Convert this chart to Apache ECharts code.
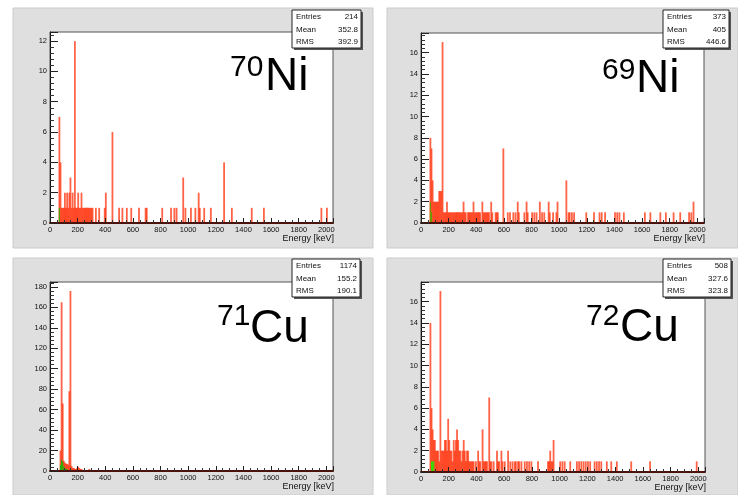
<!DOCTYPE html>
<html><head><meta charset="utf-8">
<script src="https://cdn.jsdelivr.net/npm/echarts@6/dist/echarts.min.js"></script>
<style>html,body{margin:0;padding:0;background:#fff}#c{width:738px;height:495px}</style>
</head><body><div id="c"></div>
<script>
// ---------- data ----------
const BIN_KEV = 8;                       // histogram bin width (keV)
const xTickLabels = [0,200,400,600,800,1000,1200,1400,1600,1800,2000];
const statNames = ['Entries','Mean','RMS'];

// 70Ni
const ni70E = [64,72,80,88,96,104,112,120,128,136,144,152,160,168,176,184,192,200,208,216,224,232,240,248,256,264,272,280,288,296,304,328,352,392,400,448,496,520,552,584,640,688,696,808,872,896,912,960,976,1016,1048,1072,1080,1112,1160,1256,1312,1456,1544,1960,2000];
const ni70N = [7,4,1,1,1,2,1,2,1,2,3,1,2,1,12,1,1,2,1,1,2,1,1,1,1,1,1,1,1,1,1,1,1,1,2,6,1,1,1,1,1,1,1,1,1,1,1,3,1,1,1,2,1,1,1,4,1,1,1,1,1];
const ni70GE = [64];
const ni70GN = [1];
const ni70YTicks = [0,2,4,6,8,10,12];
const ni70Stats = ['214','352.8','392.9'];

// 69Ni
const ni69E = [64,72,80,88,96,104,112,120,128,136,144,152,160,168,176,184,192,200,208,216,224,232,240,248,256,264,272,280,288,296,304,312,320,336,344,352,360,368,376,384,392,400,408,416,424,440,448,456,464,472,480,488,504,512,536,544,552,592,624,640,664,680,696,704,744,760,768,800,816,832,856,872,888,920,928,952,976,984,1048,1064,1072,1088,1104,1192,1248,1288,1304,1328,1400,1416,1432,1464,1616,1656,1728,1768,1824,1872,1936,1952,1968];
const ni69N = [8,7,4,2,2,2,2,2,3,3,3,17,1,1,1,2,1,1,1,1,1,1,1,1,1,1,1,1,1,1,2,1,1,1,1,1,1,1,2,1,1,1,1,1,1,2,1,1,1,1,1,1,2,1,1,1,1,7,1,1,1,1,2,1,1,2,1,1,1,1,2,1,1,2,1,1,1,2,4,1,1,1,1,1,1,1,1,1,1,1,1,1,1,1,1,1,1,1,1,1,2];
const ni69GE = [64,72];
const ni69GN = [2,1];
const ni69YTicks = [0,2,4,6,8,10,12,14,16];
const ni69Stats = ['373','405','446.6'];

// 71Cu
const cu71E = [72,80,88,96,104,112,120,128,136,144,152,160,168,176,184,192,200,208,216,224,232,248,264,280,296,320,344,368,392,416,440,472,504,536,568,600,640,688,720,760,800,848,904,960,1000,1056,1104,1160,1208,1264,1320,1376,1432,1488,1544,1600,1656,1712,1768,1824,1880,1936,1992];
const cu71N = [20,165,66,10,8,7,7,6,78,176,5,3,3,2,2,3,4,3,2,2,1,1,1,2,1,1,1,1,1,1,1,1,1,1,1,1,1,1,1,1,1,1,1,1,1,1,1,1,1,1,1,1,1,1,1,1,1,1,1,1,1,1,1];
const cu71GE = [72,80,88,96,104,112,120,128];
const cu71GN = [6,11,9,5,3,2,2,1];
const cu71YTicks = [0,20,40,60,80,100,120,140,160,180];
const cu71Stats = ['1174','155.2','190.1'];

// 72Cu
const cu72E = [64,72,80,88,96,104,112,120,128,136,144,152,160,168,176,184,192,200,208,216,224,232,240,248,256,264,272,280,288,296,304,312,320,328,336,344,352,360,368,376,392,408,416,424,440,448,456,464,472,488,496,504,520,544,552,560,576,584,600,624,640,656,672,680,696,704,720,744,760,776,792,840,912,920,928,936,944,952,1000,1016,1032,1072,1120,1136,1152,1168,1184,1200,1216,1248,1264,1280,1296,1336,1368,1408,1512,1648,1984];
const cu72N = [14,6,4,3,3,2,2,2,1,17,2,2,2,3,3,2,5,3,2,2,1,3,2,3,4,3,2,2,1,2,3,2,1,2,2,1,1,1,1,1,1,2,1,1,4,1,1,1,1,7,1,1,1,2,1,1,2,1,1,2,1,1,1,1,1,1,1,1,1,1,1,1,1,1,2,1,1,3,1,1,1,1,1,1,1,1,1,1,1,1,1,1,1,1,1,1,1,1,1];
const cu72GE = [72,80,88];
const cu72GN = [1,1,1];
const cu72YTicks = [0,2,4,6,8,10,12,14,16];
const cu72Stats = ['508','327.6','323.8'];

// ---------- layout ----------
const panels = [
  {mass:'70', el:'Ni', E:ni70E, N:ni70N, GE:ni70GE, GN:ni70GN, yTicks:ni70YTicks, stats:ni70Stats,
   grid:{left:50, top:32, width:283, height:191}, canvas:[13,8,360,240], box:[292,10,69,38],
   sup:[230,67.5], big:[265,77], green:'#3aa800'},
  {mass:'69', el:'Ni', E:ni69E, N:ni69N, GE:ni69GE, GN:ni69GN, yTicks:ni69YTicks, stats:ni69Stats,
   grid:{left:421, top:33, width:283, height:190}, canvas:[387,8,351,240], box:[663,10,66,38],
   sup:[602,70.5], big:[636,79.5], green:'#6a9a00'},
  {mass:'71', el:'Cu', E:cu71E, N:cu71N, GE:cu71GE, GN:cu71GN, yTicks:cu71YTicks, stats:cu71Stats,
   grid:{left:50, top:282, width:283, height:189}, canvas:[13,258,360,237], box:[292,259,68,38],
   sup:[217,317], big:[250,329], green:'#22b000'},
  {mass:'72', el:'Cu', E:cu72E, N:cu72N, GE:cu72GE, GN:cu72GN, yTicks:cu72YTicks, stats:cu72Stats,
   grid:{left:421, top:282, width:284, height:190}, canvas:[387,258,351,237], box:[663,259,68,38],
   sup:[586,317], big:[620,328.7], green:'#2ee000'}
];

const FONT = '"Liberation Sans", Arial, Helvetica, sans-serif';
const RED = 'rgba(255,40,0,0.72)';
const BAR_BLEED = 0.7;   // px added to each bin so the thin bins look like the blurred original

function histRenderer(color, bleed) {
  return function (params, api) {
    const e = api.value(0), n = api.value(1);
    const a = api.coord([e, 0]);
    const b = api.coord([e + BIN_KEV, n]);
    return {type:'rect', shape:{x:a[0] - bleed / 2, y:b[1], width:b[0]-a[0] + bleed, height:a[1]-b[1]},
            style:{fill: color}};
  };
}
function tickFormatter(list) {
  return function (v) {
    for (const t of list) if (Math.abs(t - v) < 1e-6) return String(t);
    return '';
  };
}

const grids = [], xAxes = [], yAxes = [], series = [], graphics = [];
panels.forEach((p, i) => {
  const yMax = Math.round(Math.max(...p.N) * 1.05 * 1000) / 1000;
  const yStep = p.yTicks[1] - p.yTicks[0];
  grids.push(Object.assign({show:true, backgroundColor:'#ffffff', borderColor:'#555', borderWidth:1, z:1, containLabel:false}, p.grid));
  xAxes.push({type:'value', gridIndex:i, min:0, max:2048, interval:200, z:5,
    axisLine:{show:true, onZero:false, lineStyle:{color:'#4a120a', width:2}},
    axisTick:{show:true, inside:true, length:5, lineStyle:{color:'#222'}},
    minorTick:{show:true, splitNumber:4, length:3, lineStyle:{color:'#333'}},
    splitLine:{show:false}, minorSplitLine:{show:false},
    axisLabel:{show:true, fontSize:7.5, fontFamily:FONT, color:'#111', margin:3, hideOverlap:false,
      formatter: tickFormatter(xTickLabels)}
  });
  yAxes.push({type:'value', gridIndex:i, min:0, max:yMax, interval:yStep, z:5,
    axisLine:{show:true, onZero:false, lineStyle:{color:'#111', width:1}},
    axisTick:{show:true, inside:true, length:8, lineStyle:{color:'#222'}},
    minorTick:{show:true, splitNumber:5, length:4, lineStyle:{color:'#333'}},
    splitLine:{show:false}, minorSplitLine:{show:false},
    axisLabel:{show:true, fontSize:7.5, fontFamily:FONT, color:'#111', margin:3, hideOverlap:false,
      formatter: tickFormatter(p.yTicks)}
  });
  series.push({type:'custom', xAxisIndex:i, yAxisIndex:i, renderItem:histRenderer(RED, BAR_BLEED), clip:true, silent:true, z:2,
    encode:{x:0, y:1}, data:p.E.map((e, k) => [e, p.N[k]])});
  series.push({type:'custom', xAxisIndex:i, yAxisIndex:i, renderItem:histRenderer(p.green, 0), clip:true, silent:true, z:3,
    encode:{x:0, y:1}, data:p.GE.map((e, k) => [e, p.GN[k]])});

  const c = p.canvas;
  graphics.push({type:'rect', z:-10, silent:true, shape:{x:c[0], y:c[1], width:c[2], height:c[3]},
    style:{fill:'#dfdfdf', stroke:'#cbcbcb', lineWidth:1}});
  const b = p.box;
  graphics.push({type:'rect', z:20, silent:true, shape:{x:b[0]+2, y:b[1]+2, width:b[2], height:b[3]},
    style:{fill:'#555'}});
  graphics.push({type:'rect', z:21, silent:true, shape:{x:b[0], y:b[1], width:b[2], height:b[3]},
    style:{fill:'#ffffff', stroke:'#222', lineWidth:1}});
  statNames.forEach((s, r) => {
    const yy = b[1] + 7 + r * 12.3;
    graphics.push({type:'text', z:22, silent:true, style:{text:s, x:b[0]+4, y:yy, font:'8px ' + FONT,
      fill:'#111', align:'left', textAlign:'left', verticalAlign:'middle', textVerticalAlign:'middle'}});
    graphics.push({type:'text', z:22, silent:true, style:{text:p.stats[r], x:b[0]+b[2]-3, y:yy, font:'8px ' + FONT,
      fill:'#111', align:'right', textAlign:'right', verticalAlign:'middle', textVerticalAlign:'middle'}});
  });
  const g = p.grid;
  graphics.push({type:'text', z:22, silent:true, style:{text:'Energy [keV]', x:g.left+g.width+1, y:g.top+g.height+16,
    font:'9px ' + FONT, fill:'#111', align:'right', textAlign:'right', verticalAlign:'middle', textVerticalAlign:'middle'}});
  graphics.push({type:'text', z:22, silent:true, style:{text:p.mass, x:p.sup[0], y:p.sup[1], font:'30px ' + FONT,
    fill:'#000', align:'left', textAlign:'left', verticalAlign:'middle', textVerticalAlign:'middle'}});
  graphics.push({type:'text', z:22, silent:true, style:{text:p.el, x:p.big[0], y:p.big[1], font:'46px ' + FONT,
    fill:'#000', align:'left', textAlign:'left', verticalAlign:'middle', textVerticalAlign:'middle'}});
});

const chart = echarts.init(document.getElementById('c'), null, {renderer:'canvas'});
chart.setOption({
  animation:false,
  backgroundColor:'#ffffff',
  grid:grids, xAxis:xAxes, yAxis:yAxes, series:series,
  graphic:{elements:graphics}
});
</script></body></html>
